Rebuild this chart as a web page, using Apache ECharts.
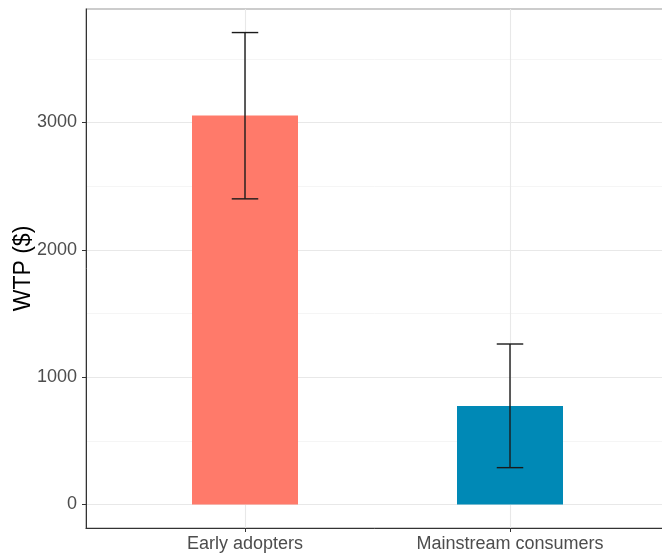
<!DOCTYPE html>
<html>
<head>
<meta charset="utf-8">
<script src="https://cdn.jsdelivr.net/npm/echarts@6/dist/echarts.min.js"></script>
<style>
  html, body { margin: 0; padding: 0; background: #fff; }
  #chart { width: 662px; height: 556px; }
</style>
</head>
<body>
<div id="chart"></div>
<script>
// Willingness to pay by consumer group, mean with error range
const categories = ['Early adopters', 'Mainstream consumers'];
const wtpMean = [3055, 773];
const wtpLower = [2400, 289];
const wtpUpper = [3706, 1260];
const barColors = ['#FF7A6A', '#0089B6'];
const yMajorTicks = [0, 1000, 2000, 3000];
const yMinorTicks = [500, 1500, 2500, 3500];

const catIndex = categories.map((_, i) => i);
const yMin = -185, yMax = 3891;

const chart = echarts.init(document.getElementById('chart'), null, { renderer: 'canvas' });

const rows = categories.map((c, i) => [i, wtpMean[i], wtpLower[i], wtpUpper[i]]);

const labelFont = { fontFamily: 'Liberation Sans, Arial, sans-serif', fontSize: 18, color: '#4d4d4d' };

chart.setOption({
  animation: false,
  backgroundColor: '#ffffff',
  grid: {
    left: 86, top: 9, bottom: 28, right: -7,
    containLabel: false, outerBoundsMode: 'none',
    show: true, borderColor: '#9a9a9a', borderWidth: 1.2, backgroundColor: 'transparent'
  },
  xAxis: [{
    type: 'value', min: -0.6, max: 1.6,
    axisLine: { show: true, onZero: false, lineStyle: { color: '#333', width: 1 } },
    axisTick: { show: true, length: 4, customValues: catIndex, lineStyle: { color: '#333' } },
    axisLabel: Object.assign({
      customValues: catIndex, margin: 7,
      formatter: v => categories[Math.round(v)] || ''
    }, labelFont),
    splitLine: { show: true, lineStyle: { color: '#e8e8e8', width: 1.1 } }
  }],
  yAxis: [{
    type: 'value', min: yMin, max: yMax,
    name: 'WTP ($)', nameLocation: 'middle', nameGap: 51, nameRotate: 90,
    nameMoveOverlap: false,
    nameTextStyle: { fontFamily: 'Liberation Sans, Arial, sans-serif', fontSize: 23, color: '#000' },
    axisLine: { show: true, onZero: false, lineStyle: { color: '#333', width: 1 } },
    axisTick: { show: true, length: 4, customValues: yMajorTicks, lineStyle: { color: '#333' } },
    axisLabel: Object.assign({ customValues: yMajorTicks, margin: 9, formatter: v => String(v) }, labelFont),
    splitLine: { show: true, lineStyle: { color: '#e8e8e8', width: 1.1 } }
  }, {
    type: 'value', min: yMin, max: yMax, show: true,
    axisLine: { show: false }, axisLabel: { show: false },
    axisTick: { show: false, customValues: yMinorTicks },
    splitLine: { show: true, lineStyle: { color: '#f0f0f0', width: 0.7 } }
  }],
  series: [{
    type: 'custom',
    xAxisIndex: 0, yAxisIndex: 0,
    data: rows,
    encode: { x: 0, y: [1, 2, 3] },
    renderItem: function (params, api) {
      const i = api.value(0);
      const base = api.coord([i, 0]);
      const top = api.coord([i, api.value(1)]);
      const lo = api.coord([i, api.value(2)]);
      const hi = api.coord([i, api.value(3)]);
      const unit = api.size([1, 0])[0];
      const barW = unit * 0.4;
      const capW = unit * 0.1;
      return {
        type: 'group',
        children: [{
          type: 'rect',
          shape: { x: base[0] - barW / 2, y: top[1], width: barW, height: base[1] - top[1] },
          style: { fill: barColors[i] }
        }, {
          type: 'line',
          shape: { x1: hi[0], y1: hi[1], x2: lo[0], y2: lo[1] },
          style: { stroke: '#1a1a1a', lineWidth: 1.4 }
        }, {
          type: 'line',
          shape: { x1: hi[0] - capW / 2, y1: hi[1], x2: hi[0] + capW / 2, y2: hi[1] },
          style: { stroke: '#1a1a1a', lineWidth: 1.4 }
        }, {
          type: 'line',
          shape: { x1: lo[0] - capW / 2, y1: lo[1], x2: lo[0] + capW / 2, y2: lo[1] },
          style: { stroke: '#1a1a1a', lineWidth: 1.4 }
        }]
      };
    }
  }]
});
</script>
</body>
</html>
